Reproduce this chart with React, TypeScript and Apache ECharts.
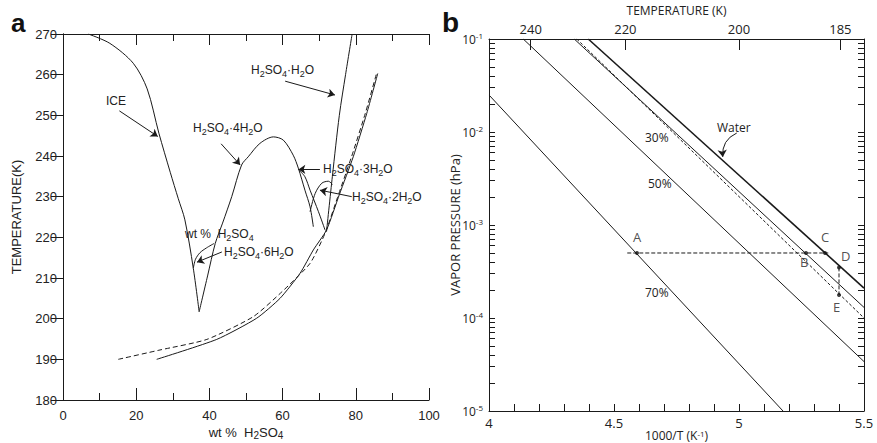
import React, { useEffect, useRef } from 'react';
import * as echarts from 'echarts';

// ---------- Panel a : phase diagram (wt % H2SO4, K) ----------
const iceCurve = [[6.9, 270], [12.8, 267.7], [19.2, 262.8], [23, 256.5], [26.2, 245.6], [29.3, 236], [31.5, 229.5], [33.3, 224.3], [35.6, 212.4], [37.2, 201.7]];
const tetraCurve = [[37.2, 201.7], [39.5, 210.5], [41.6, 218.5], [43.6, 223.5], [46.1, 230], [48.8, 237.8], [50.6, 239.8], [53.8, 243.1], [57.5, 244.7], [60.2, 243.9], [62.9, 240.2], [64.3, 237], [66.1, 231.6], [67.5, 227.5], [68.4, 222.6]];
const hexaCurve = [[35.6, 212.4], [36.2, 214.6], [37.4, 216.2], [39.2, 217.4], [41.3, 218.5]];
const triCurve = [[64.5, 236.5], [66.1, 234.9], [67.5, 231.6], [69.8, 226.3], [71.6, 221.8]];
const diCurve = [[67.5, 226.3], [68.9, 230.8], [70.7, 233.3], [72.5, 233.8], [73.6, 233]];
const monoCurve = [[72.0, 221.4], [73.6, 235], [75.5, 250], [77.2, 260], [79.0, 270]];
const lowerSolid = [[25.6, 190], [42.0, 194.9], [52.9, 200.1], [59.3, 205], [64.8, 211.2], [68.4, 216.9], [72.0, 221.8], [75.5, 230.5], [79.3, 239.8], [83.0, 250.5], [86.0, 260.3]];
const lowerDashed = [[15.1, 190], [26.5, 192.3], [39.3, 194.9], [52.0, 200.5], [59.8, 206.6], [67.5, 213.6], [71.6, 221], [75.0, 229.8], [78.9, 240], [82.6, 250.5], [85.7, 260.4]];
const arrowsA = [
  [[15.4, 251.1], [25.9, 244.8]],
  [[60.7, 258.4], [74.3, 255]],
  [[43.2, 243], [48.4, 237.8]],
  [[70.2, 236.7], [64.3, 236.7]],
  [[78.9, 230], [70.2, 231.6]],
  [[43.4, 216.4], [36.6, 213.9]],
];
const xTicksA = [0, 100, 20];
const yTicksA = [180, 270, 10];

// ---------- Panel b : vapour pressure (1000/T, hPa) ----------
const waterLine = [[4.397, 1e-1], [5.5, 2.1e-4]];
const solidLine = [[4.341, 1e-1], [5.5, 1.3e-4]];
const dashedLine = [[4.351, 1e-1], [5.5, 1.0e-4]];
const line50 = [[4.137, 1e-1], [5.5, 3.4e-5]];
const line70 = [[4.0, 2.5e-2], [5.176, 1e-5]];
const stateLine = [[4.553, 5e-4], [5.357, 5e-4]];
const coolLine = [[5.4, 3.5e-4], [5.4, 1.77e-4]];
const pointNames = ['A', 'B', 'C', 'D', 'E'];
const pointX = [4.592, 5.268, 5.344, 5.4, 5.4];
const pointP = [5e-4, 5e-4, 5e-4, 3.5e-4, 1.77e-4];
const waterArrow = [[4.991, 9.75e-3], [4.935, 5.4e-3]];
const topTemps = [240, 220, 200, 185];
const decadeExps = [-5, -4, -3, -2, -1];
const decadeSteps = [1, 2, 3, 4, 5, 6, 7, 8, 9];

const INK = '#1a1a1a';
const TXT = '#222';
const FA = '"Liberation Sans", Arial, sans-serif';
const FB = '"Open Sans", sans-serif';

const lg = (d: number[][]) => d.map(([x, p]) => [x, Math.log10(p)]);

const richA = {
  n: { fontSize: 12, fontFamily: FA, color: TXT, lineHeight: 16 },
  s: { fontSize: 9, fontFamily: FA, color: TXT, verticalAlign: 'bottom' },
};
const richB = {
  n: { fontSize: 12, fontFamily: FB, color: TXT, lineHeight: 16 },
  p: { fontSize: 8, fontFamily: FB, color: TXT, verticalAlign: 'top' },
};

const hydrate = (k: string) => `{n|H}{s|2}{n|SO}{s|4}{n|·${k}H}{s|2}{n|O}`;

function lineS(data: number[][], xi: number, yi: number, dashed = false, width = 1, smooth: number | boolean = false) {
  return {
    type: 'line', data, xAxisIndex: xi, yAxisIndex: yi, showSymbol: false, symbol: 'none', smooth,
    silent: true, z: 3,
    lineStyle: { color: INK, width, type: dashed ? [5, 3] : 'solid' },
  };
}

function textG(x: number, y: number, text: string, rich: any, align = 'left') {
  return { type: 'text', x, y, silent: true, style: { text, rich, align, verticalAlign: 'middle', fill: TXT } };
}

export default function App() {
  const ref = useRef<HTMLDivElement>(null);
  useEffect(() => {
    const chart = echarts.init(ref.current!, null, { renderer: 'svg' });
    const axLine = { show: true, lineStyle: { color: INK, width: 1 } };
    const logTicks: number[] = [];
    decadeExps.forEach((e) => {
      if (e === -1) { logTicks.push(-1); return; }
      decadeSteps.forEach((k) => logTicks.push(Math.log10(k * Math.pow(10, e))));
    });

    const option: any = {
      animation: false,
      backgroundColor: '#fff',
      grid: [
        { left: 63, top: 34, width: 366, height: 366, containLabel: false, outerBoundsMode: 'none' },
        { left: 489, top: 39, width: 375, height: 372, containLabel: false, outerBoundsMode: 'none' },
      ],
      xAxis: [
        {
          gridIndex: 0, type: 'value', position: 'bottom', min: xTicksA[0], max: xTicksA[1], interval: xTicksA[2],
          axisLine: axLine, splitLine: { show: false },
          axisTick: { inside: true, length: 12, lineStyle: { color: INK } },
          minorTick: { show: true, splitNumber: 2, length: 7, lineStyle: { color: INK } },
          axisLabel: { color: TXT, fontSize: 13, fontFamily: FA, margin: 9 },
          name: '{n|wt %  H}{s|2}{n|SO}{s|4}', nameLocation: 'middle', nameGap: 25, nameMoveOverlap: false,
          nameTextStyle: { rich: { n: { ...richA.n, fontSize: 13, lineHeight: 15 }, s: { ...richA.s, fontSize: 10 } } },
        },
        {
          gridIndex: 0, type: 'value', position: 'top', min: xTicksA[0], max: xTicksA[1], interval: xTicksA[2],
          axisLine: axLine, splitLine: { show: false },
          axisTick: { inside: true, length: 11, lineStyle: { color: INK } },
          minorTick: { show: true, splitNumber: 2, length: 7, lineStyle: { color: INK } },
          axisLabel: { show: false },
        },
        {
          gridIndex: 1, type: 'value', position: 'bottom', min: 4, max: 5.5, interval: 0.5,
          axisLine: axLine, splitLine: { show: false },
          axisTick: { inside: true, length: 7, lineStyle: { color: INK } },
          minorTick: { show: true, splitNumber: 5, length: 7, lineStyle: { color: INK } },
          axisLabel: { color: TXT, fontSize: 13, fontFamily: FB, margin: 5 },
          name: '{n|1000/T (K}{p|-1}{n|)}', nameLocation: 'middle', nameGap: 18, nameMoveOverlap: false,
          nameTextStyle: { rich: { n: { ...richB.n, lineHeight: 12 }, p: richB.p } },
        },
        {
          gridIndex: 1, type: 'value', position: 'top', min: 4, max: 5.5,
          axisLine: axLine, splitLine: { show: false },
          axisTick: { inside: true, length: 11, lineStyle: { color: INK }, customValues: topTemps.map((t) => 1000 / t) },
          axisLabel: {
            color: TXT, fontSize: 13, fontFamily: FB, margin: 4,
            customValues: topTemps.map((t) => 1000 / t),
            formatter: (v: number) => String(Math.round(1000 / v)),
          },
          name: 'TEMPERATURE (K)', nameLocation: 'middle', nameGap: 23, nameMoveOverlap: false,
          nameTextStyle: { color: TXT, fontSize: 12, fontFamily: FB },
        },
      ],
      yAxis: [
        {
          gridIndex: 0, type: 'value', position: 'left', min: yTicksA[0], max: yTicksA[1], interval: yTicksA[2],
          axisLine: axLine, splitLine: { show: false },
          axisTick: { inside: false, length: 5, lineStyle: { color: INK } },
          axisLabel: { color: TXT, fontSize: 13, fontFamily: FA, margin: 6 },
          name: 'TEMPERATURE(K)', nameLocation: 'middle', nameGap: 40, nameRotate: 90, nameMoveOverlap: false,
          nameTextStyle: { color: TXT, fontSize: 13, fontFamily: FA },
        },
        {
          gridIndex: 0, type: 'value', position: 'right', min: yTicksA[0], max: yTicksA[1], interval: yTicksA[2],
          axisLine: axLine, splitLine: { show: false },
          axisTick: { inside: true, length: 12, lineStyle: { color: INK } },
          axisLabel: { show: false },
        },
        {
          gridIndex: 1, type: 'value', position: 'left', min: -5, max: -1, interval: 1,
          axisLine: axLine, splitLine: { show: false },
          axisTick: { inside: true, length: 6, lineStyle: { color: INK }, customValues: logTicks },
          axisLabel: {
            margin: 6, formatter: (v: number) => `{n|10}{p|${Math.round(v)}}`,
            rich: { n: { ...richB.n, fontSize: 12 }, p: richB.p },
          },
          name: 'VAPOR PRESSURE (hPa)', nameLocation: 'middle', nameGap: 28, nameRotate: 90, nameMoveOverlap: false,
          nameTextStyle: { color: TXT, fontSize: 13, fontFamily: FB },
        },
        {
          gridIndex: 1, type: 'value', position: 'right', min: -5, max: -1, interval: 1,
          axisLine: axLine, splitLine: { show: false },
          axisTick: { inside: true, length: 6, lineStyle: { color: INK }, customValues: logTicks },
          axisLabel: { show: false },
        },
      ],
      series: [
        lineS(iceCurve, 0, 0, false, 1, 0.3),
        lineS(tetraCurve, 0, 0, false, 1, 0.3),
        lineS(hexaCurve, 0, 0, false, 1, 0.3),
        lineS(triCurve, 0, 0, false, 1, 0.3),
        lineS(diCurve, 0, 0, false, 1, 0.3),
        lineS(monoCurve, 0, 0, false, 1, 0.3),
        lineS(lowerSolid, 0, 0, false, 1, 0.2),
        lineS(lowerDashed, 0, 0, true, 1, 0.2),
        {
          type: 'lines', coordinateSystem: 'cartesian2d', xAxisIndex: 0, yAxisIndex: 0, silent: true, z: 4,
          symbol: ['none', 'arrow'], symbolSize: 7,
          lineStyle: { color: INK, width: 1, opacity: 1 },
          data: arrowsA.map((c) => ({ coords: c })),
        },
        lineS(lg(waterLine), 2, 2, false, 1.6),
        lineS(lg(solidLine), 2, 2),
        { ...lineS(lg(dashedLine), 2, 2), lineStyle: { color: INK, width: 1, type: [3, 2] } },
        lineS(lg(line50), 2, 2),
        lineS(lg(line70), 2, 2),
        { ...lineS(lg(stateLine), 2, 2), lineStyle: { color: INK, width: 1, type: [4, 2] } },
        { ...lineS(lg(coolLine), 2, 2), lineStyle: { color: INK, width: 1, type: [4, 2] } },
        {
          type: 'lines', coordinateSystem: 'cartesian2d', xAxisIndex: 2, yAxisIndex: 2, silent: true, z: 4,
          symbol: ['none', 'arrow'], symbolSize: 7,
          lineStyle: { color: INK, width: 1, opacity: 1, curveness: -0.35 },
          data: [{ coords: lg(waterArrow) }],
        },
        {
          type: 'scatter', xAxisIndex: 2, yAxisIndex: 2, symbolSize: 4, silent: true, z: 5,
          itemStyle: { color: '#111' },
          label: { show: true, color: TXT, fontSize: 13, fontFamily: FB, formatter: (p: any) => p.name },
          data: pointNames.map((n, i) => {
            const pos: any = { A: [-2, -20], B: [-4, 5], C: [-2, -20], D: [4, -16], E: [-4, 8] };
            return { name: n, value: [pointX[i], Math.log10(pointP[i])], label: { position: pos[n] } };
          }),
        },
      ],
      graphic: [
        { type: 'text', x: 11, y: 23, silent: true, style: { text: 'a', font: `bold 26px ${FA}`, fill: '#111', verticalAlign: 'middle' } },
        { type: 'text', x: 442, y: 22, silent: true, style: { text: 'b', font: `bold 28px ${FA}`, fill: '#111', verticalAlign: 'middle' } },
        textG(106, 101, '{n|ICE}', richA),
        textG(251, 70, hydrate(''), richA),
        textG(193, 128, hydrate('4'), richA),
        textG(323, 169, hydrate('3'), richA),
        textG(352, 197, hydrate('2'), richA),
        textG(185, 234, '{n|wt %  H}{s|2}{n|SO}{s|4}', richA),
        textG(224, 252, hydrate('6'), richA),
        textG(717, 127, '{n|Water}', richB),
        textG(645, 137, '{n|30%}', richB),
        textG(648, 183, '{n|50%}', richB),
        textG(645, 292, '{n|70%}', richB),
      ],
    };
    chart.setOption(option);
    return () => chart.dispose();
  }, []);
  return <div ref={ref} style={{ position: 'fixed', left: 0, top: 0, width: 877, height: 443, background: '#fff' }} />;
}
